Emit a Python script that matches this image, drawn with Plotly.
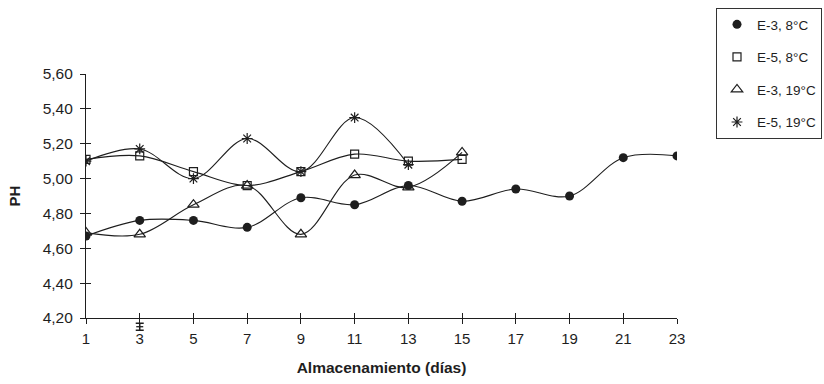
import plotly.graph_objects as go

# Storage day (días) for each measurement
days = [1, 3, 5, 7, 9, 11, 13, 15, 17, 19, 21, 23]

# pH readings per sample / storage temperature
ph_e3_8 = [4.67, 4.76, 4.76, 4.72, 4.89, 4.85, 4.96, 4.87, 4.94, 4.90, 5.12, 5.13]
ph_e5_8 = [5.11, 5.13, 5.04, 4.96, 5.04, 5.14, 5.10, 5.11]
ph_e3_19 = [4.69, 4.68, 4.85, 4.96, 4.68, 5.02, 4.95, 5.15]
ph_e5_19 = [5.10, 5.17, 5.00, 5.23, 5.04, 5.35, 5.08]

series_names = ["E-3, 8°C", "E-5, 8°C", "E-3, 19°C", "E-5, 19°C"]

# Error bar shown on day 3 (centre and half-length)
err_day = [3]
err_ph = [4.15]
err_half = [0.02]

y_ticks = [4.2, 4.4, 4.6, 4.8, 5.0, 5.2, 5.4, 5.6]
x_ticks = days
y_range = [4.2, 5.6]

INK = "#1e1e1e"
FONT = "Liberation Sans, Arial, sans-serif"

# page geometry
W, H = 824, 384
M_L, M_R, M_T = 86, 147, 74
AXIS_BOTTOM_PX = 318          # pixel row of the x axis line
EXTRA_PX = 24                 # strip under the axis used by the day-3 error bar
M_B = H - AXIS_BOTTOM_PX - EXTRA_PX
full_h = H - M_T - M_B
main_h = full_h - EXTRA_PX
y_dom_low = EXTRA_PX / full_h
# lower axis sharing the same scale but reaching below the main x axis
per_px = (y_range[1] - y_range[0]) / main_h
y3_range = [y_range[0] - EXTRA_PX * per_px, y_range[1]]

markers = [
    dict(symbol="circle", size=9, color=INK, line=dict(width=0)),
    dict(symbol="square-open", size=8, color=INK, line=dict(width=1.2, color=INK)),
    dict(symbol="triangle-up-open", size=10, color=INK, line=dict(width=1.2, color=INK)),
    dict(symbol="asterisk-open", size=9, color=INK, line=dict(width=1.2, color=INK)),
]

fig = go.Figure()

all_series = [ph_e3_8, ph_e5_8, ph_e3_19, ph_e5_19]
for name, vals in zip(series_names, all_series):
    xs = days[: len(vals)]
    # smoothed connecting line
    fig.add_trace(go.Scatter(
        x=xs, y=vals, mode="lines", showlegend=False, hoverinfo="skip",
        line=dict(color=INK, width=1.1, shape="spline", smoothing=1.0),
    ))
for i, (name, vals) in enumerate(zip(series_names, all_series)):
    xs = days[: len(vals)]
    fig.add_trace(go.Scatter(
        x=xs, y=vals, mode="markers", name=name, legendgroup=name,
        marker=markers[i],
    ))

# error bar on day 3, drawn on the lower axis
fig.add_trace(go.Scatter(
    x=err_day, y=err_ph, mode="markers", showlegend=False, hoverinfo="skip",
    xaxis="x", yaxis="y3",
    marker=dict(symbol="line-ew", size=5, line=dict(width=1.3, color=INK)),
    error_y=dict(type="data", array=err_half, visible=True, color=INK,
                 thickness=1.5, width=4),
))

# invisible trace carrying the inner tick marks
fig.add_trace(go.Scatter(x=[None], y=[None], xaxis="x2", yaxis="y2",
                         showlegend=False, hoverinfo="skip"))

axis_common = dict(showgrid=False, zeroline=False, linecolor=INK, linewidth=1.2,
                   tickcolor=INK, tickwidth=1.2, ticklen=5)

fig.update_layout(
    width=W, height=H,
    margin=dict(l=M_L, r=M_R, t=M_T, b=M_B, autoexpand=False),
    paper_bgcolor="white", plot_bgcolor="rgba(0,0,0,0)",
    separators=",.",
    font=dict(family=FONT, color=INK, size=13),
    xaxis=dict(range=[1, 23], tickvals=x_ticks, ticks="outside", showline=True,
               anchor="y", tickfont=dict(size=15), ticklabelstandoff=2,
               **axis_common,
               title=dict(text="<b>Almacenamiento (días)</b>", font=dict(size=15.5),
                          standoff=16)),
    yaxis=dict(range=y_range, domain=[y_dom_low, 1], tickvals=y_ticks,
               tickformat=".2f", ticks="outside", anchor="x",
               showline=True, tickfont=dict(size=15.5), ticklabelstandoff=4,
               **axis_common,
               title=dict(text="<b>PH</b>", font=dict(size=15), standoff=18)),
    xaxis2=dict(overlaying="x", matches="x", range=[1, 23], tickvals=x_ticks,
                ticks="inside", showticklabels=False, showline=False,
                showgrid=False, zeroline=False, tickcolor=INK, tickwidth=1.2,
                ticklen=5, side="bottom", anchor="y2"),
    yaxis2=dict(overlaying="y", matches="y", range=y_range, tickvals=y_ticks,
                ticks="inside", showticklabels=False, showline=False,
                showgrid=False, zeroline=False, tickcolor=INK, tickwidth=1.2,
                ticklen=5, side="left", anchor="x2"),
    yaxis3=dict(range=y3_range, domain=[0, 1], anchor="x", visible=False,
                showgrid=False, zeroline=False),
    legend=dict(x=(716 - M_L) / (W - M_L - M_R), y=1 + (M_T - 14) / main_h,
                xanchor="left", yanchor="top",
                bordercolor="#333", borderwidth=1, bgcolor="white",
                font=dict(size=13.5), traceorder="grouped", tracegroupgap=12,
                itemwidth=30),
    showlegend=True,
)

fig.write_html("out.html")
